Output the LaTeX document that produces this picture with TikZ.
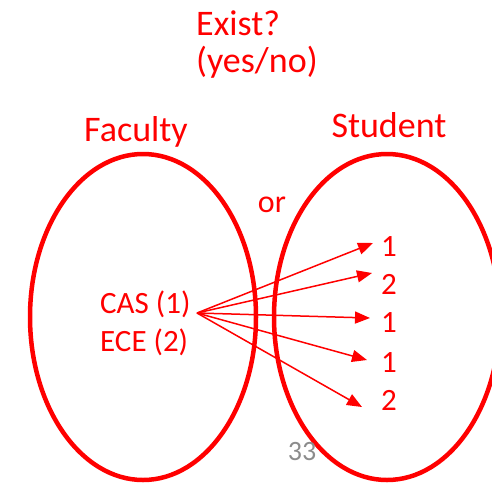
\documentclass[tikz,border=0pt]{standalone}
\usepackage{fontspec}
\setmainfont{Carlito}
\usetikzlibrary{arrows.meta}
\definecolor{pptred}{RGB}{255,0,0}
\definecolor{slidegray}{RGB}{140,140,140}
\tikzset{
  title/.style={text=pptred, font=\fontsize{36}{40}\selectfont, inner sep=0pt, anchor=base},
  label/.style={text=pptred, font=\fontsize{31}{36}\selectfont, inner sep=0pt, anchor=base},
  setshape/.style={draw=pptred, line width=4.5pt},
  maparrow/.style={draw=pptred, line width=1.5pt, -{Triangle[length=15pt,width=12pt]}}
}
\begin{document}
\begin{tikzpicture}[x=1pt,y=-1pt]
\useasboundingbox (0,0) rectangle (492,483);
\clip (0,0) rectangle (492,483);
% sets
\draw[setshape] (143,317) ellipse [x radius=113pt, y radius=163pt];
\draw[setshape] (387,317) ellipse [x radius=113pt, y radius=163pt];
% titles
\node[title, anchor=base west] (exist) at (196,35) {Exist?};
\node[title, anchor=base west] (yesno) at (196,72) {(yes/no)};
\node[title] (faculty) at (136,141) {Faculty};
\node[title] (student) at (389,137) {Student};
\node[title, font=\fontsize{32}{36}\selectfont] (or) at (272,212) {or};
% left contents
\node[label, anchor=base west] (cas) at (100,313) {CAS (1)};
\node[label, anchor=base west] (ece) at (100,351) {ECE (2)};
% right contents
\node[label] (n1) at (389,256) {1};
\node[label] (n2) at (389,294) {2};
\node[label] (n3) at (389,332) {1};
\node[label] (n4) at (389,372) {1};
\node[label] (n5) at (389,410) {2};
% arrows
\coordinate (src) at (197,313);
\coordinate (t1) at (373,243);
\coordinate (t2) at (372,273);
\coordinate (t3) at (370,318);
\coordinate (t4) at (367,360);
\coordinate (t5) at (362,407);
\draw[maparrow] (src) -- (t1);
\draw[maparrow] (src) -- (t2);
\draw[maparrow] (src) -- (t3);
\draw[maparrow] (src) -- (t4);
\draw[maparrow] (src) -- (t5);
% slide number
\node[text=slidegray, font=\fontsize{28}{32}\selectfont, inner sep=0pt, anchor=base] (page) at (302,460) {33};
\end{tikzpicture}
\end{document}
